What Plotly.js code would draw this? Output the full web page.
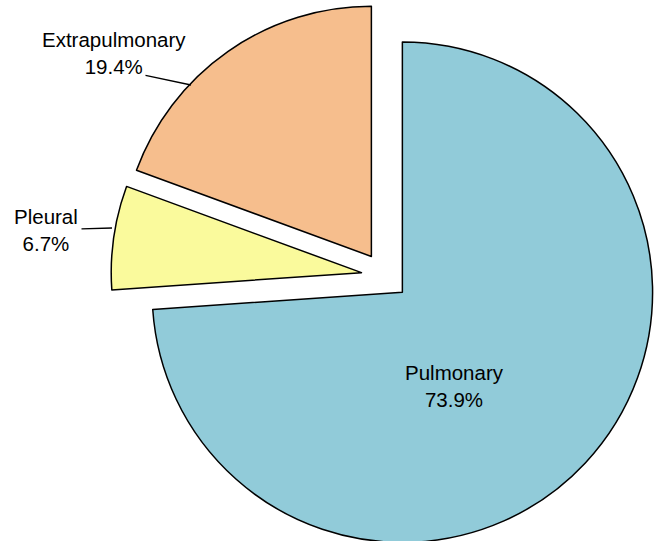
<!DOCTYPE html>
<html>
<head>
<meta charset="utf-8">
<script src="https://cdn.plot.ly/plotly-3.0.1.min.js"></script>
<style>
  html, body { margin: 0; padding: 0; overflow: hidden; background: #fff; }
  #chart { width: 659px; height: 550px; }
</style>
</head>
<body>
<div id="chart"></div>
<script>
// Data
const categories = ["Pulmonary", "Pleural", "Extrapulmonary"];
const shares = [73.9, 6.7, 19.4];
const sliceColors = ["#91CBD9", "#FAFA9C", "#F6BE8D"];

// Layout helpers (pixel -> paper coordinates)
const W = 659, H = 550, MT = 2, MB = 0;
const PH = H - MT - MB;
const px = x => x / W;
const py = y => 1 - (y - MT) / PH;

const labelText = categories.map((c, i) => c + "<br>" + shares[i].toFixed(1) + "%");

// label anchor positions (text centres, in pixels) and leader lines
const labelPos = [[454, 386], [46, 230], [114, 53]];
const leaders = [null, [[80, 229], [112, 228]], [[144, 75], [191, 85]]];

const font = { family: "Liberation Sans, Arial, Helvetica, sans-serif", size: 20.5, color: "#000" };

const annotations = [];
categories.forEach((c, i) => {
  annotations.push({
    x: px(labelPos[i][0]), y: py(labelPos[i][1]), xref: "paper", yref: "paper",
    text: labelText[i], showarrow: false, xanchor: "center", yanchor: "middle",
    align: "center", font: font
  });
  if (leaders[i]) {
    const [s, e] = leaders[i];
    annotations.push({
      x: px(e[0]), y: py(e[1]), xref: "paper", yref: "paper",
      ax: s[0] - e[0], ay: s[1] - e[1], text: "", showarrow: true,
      arrowhead: 0, arrowwidth: 1.3, arrowcolor: "#000", standoff: 0, startstandoff: 0
    });
  }
});

const trace = {
  type: "pie",
  labels: categories,
  values: shares,
  sort: false,
  direction: "clockwise",
  rotation: 0,
  pull: [0.095, 0.095, 0.095],
  marker: { colors: sliceColors, line: { color: "#000", width: 1.5 } },
  textinfo: "none",
  hoverinfo: "none",
  showlegend: false,
  domain: { x: [0.1684, 1], y: [0, 1] }
};

const layout = {
  width: W, height: H,
  margin: { l: 0, r: 0, t: MT, b: MB },
  paper_bgcolor: "#fff",
  showlegend: false,
  annotations: annotations
};

Plotly.newPlot("chart", [trace], layout, { displayModeBar: false, staticPlot: true });
</script>
</body>
</html>
